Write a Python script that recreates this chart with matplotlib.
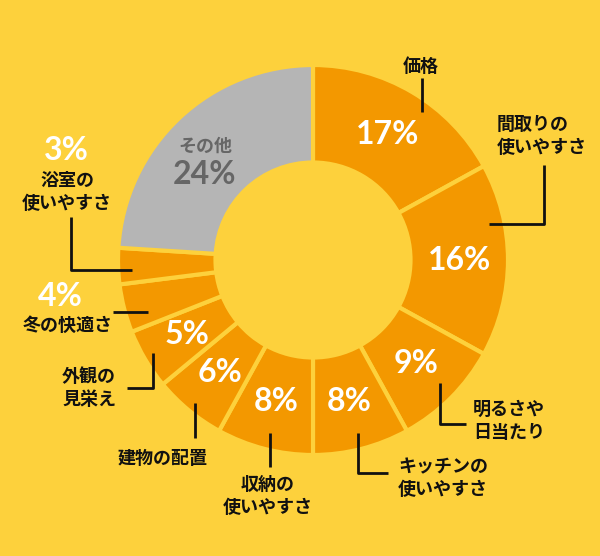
import matplotlib.pyplot as plt
import numpy as np

plt.rcParams['font.family'] = ['Noto Sans CJK JP', 'DejaVu Sans']

# data
labels = ['価格', '間取りの\n使いやすさ', '明るさや\n日当たり', 'キッチンの\n使いやすさ',
          '収納の\n使いやすさ', '建物の配置', '外観の\n見栄え', '冬の快適さ',
          '浴室の\n使いやすさ', 'その他']
values = [17, 16, 9, 8, 8, 6, 5, 4, 3, 24]

bg = '#FDD13C'
orange = '#F39800'
gray = '#B5B5B5'
colors = [orange] * 9 + [gray]
pct_font = ['Lato', 'DejaVu Sans']

fig = plt.figure(figsize=(6, 5.56), dpi=100, facecolor=bg)
ax = fig.add_axes([0, 0, 1, 1])
ax.set_facecolor(bg)

cx, cy, R = 313, 260, 195
wedges, _ = ax.pie(values, colors=colors, center=(cx, cy), radius=R,
                   startangle=-90, counterclock=True, frame=True,
                   wedgeprops=dict(width=R * 0.5, edgecolor=bg, linewidth=3))
ax.set_xlim(0, 600)
ax.set_ylim(556, 0)
ax.set_aspect('equal')
ax.axis('off')

# percentages inside the ring
for i, w in enumerate(wedges):
    if i in (7, 8, 9):
        continue
    a = np.deg2rad((w.theta1 + w.theta2) / 2)
    x = cx + R * 0.75 * np.cos(a)
    y = cy + R * 0.75 * np.sin(a)
    ax.text(x, y, f'{values[i]}%', color='white', fontsize=23, fontweight='bold',
            ha='center', va='center', family=pct_font)

# その他
ax.text(205, 146, labels[9], color='#666666', fontsize=13, fontweight='bold',
        ha='center', va='center')
ax.text(205, 174, f'{values[9]}%', color='#666666', fontsize=23, fontweight='bold',
        ha='center', va='center', family=pct_font)

# small slices: percentages outside
ax.text(60, 297, f'{values[7]}%', color='white', fontsize=23, fontweight='bold',
        ha='center', va='center', family=pct_font)
ax.text(66, 150, f'{values[8]}%', color='white', fontsize=23, fontweight='bold',
        ha='center', va='center', family=pct_font)

# outside labels: (x, y, ha)
label_pos = [(421, 66, 'center'), (497, 136, 'left'), (473, 421, 'left'),
             (398, 478, 'left'), (268, 496, 'center'), (163, 458, 'center'),
             (89, 388, 'center'), (68, 325, 'center'), (67, 192, 'center')]
for lab, (x, y, ha) in zip(labels[:9], label_pos):
    ax.text(x, y, lab, fontsize=13, fontweight='bold', color='#111111',
            ha=ha, va='center', linespacing=1.25)

# leader lines
leaders = [
    ([422, 422], [78, 112]),
    ([489, 544, 544], [224, 224, 165]),
    ([440, 440, 466], [383, 424, 424]),
    ([358, 358, 388], [433, 473, 473]),
    ([270, 270], [433, 467]),
    ([195, 195], [403, 438]),
    ([153, 153, 127], [353, 388, 388]),
    ([113, 148], [312, 312]),
    ([71, 71, 132], [217, 270, 270]),
]
for xs, ys in leaders:
    ax.plot(xs, ys, color='#111111', linewidth=2, solid_capstyle='butt')

fig.savefig('out.png', dpi=100, facecolor=bg)
